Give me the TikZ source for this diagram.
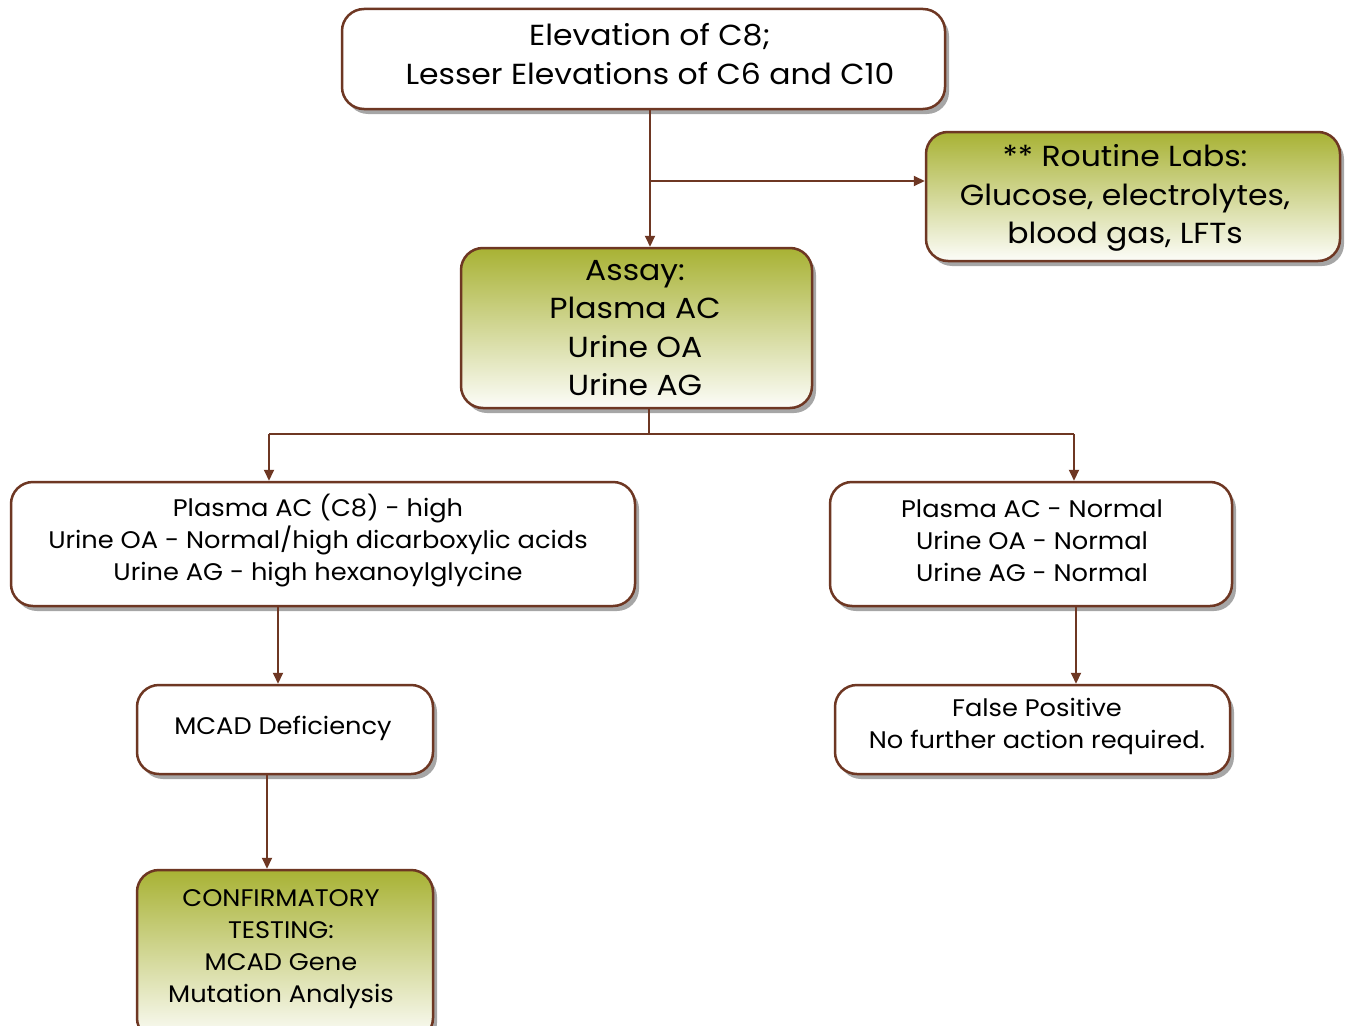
\documentclass[tikz,border=0pt]{standalone}
\usepackage{fontspec}
\setmainfont{Poppins}
\newfontfamily\bigf[FakeStretch=1.085]{Poppins}
\newfontfamily\smallf[FakeStretch=1.07]{Poppins}
\usetikzlibrary{shadows,arrows.meta}
\definecolor{brd}{RGB}{110,55,35}
\definecolor{olv}{RGB}{168,178,52}
\begin{document}
\begin{tikzpicture}[x=1pt,y=-1pt,
  box/.style={draw=brd, line width=2.5pt, rounded corners=22pt, fill=white, inner sep=0pt,
    drop shadow={shadow xshift=4pt, shadow yshift=-5pt, opacity=0.35, fill=black}},
  gbox/.style={box, top color=olv, bottom color=white!97!olv},
  big/.style={align=center, inner sep=0pt, font=\bigf\fontsize{29}{38.5}\selectfont},
  small/.style={align=center, inner sep=0pt, font=\smallf\fontsize{24}{32}\selectfont},
  arr/.style={draw=brd, line width=2pt, -{Triangle[length=11pt,width=10pt]}},
  ln/.style={draw=brd, line width=2pt}]
\useasboundingbox (0,0) rectangle (1346,1025);
\fill[white] (0,0) rectangle (1346,1025);
% boxes
\node[box,minimum width=603pt,minimum height=100pt] (top) at (643.5,59) {};
\node[gbox,minimum width=414pt,minimum height=129pt] (labs) at (1133,196.5) {};
\node[gbox,minimum width=351pt,minimum height=160pt] (assay) at (636.5,328) {};
\node[box,minimum width=624pt,minimum height=124pt] (left) at (323,544) {};
\node[box,minimum width=402pt,minimum height=124pt] (right) at (1031,544) {};
\node[box,minimum width=296pt,minimum height=89pt] (mcad) at (285,729.5) {};
\node[box,minimum width=395pt,minimum height=89pt] (fp) at (1032.5,729.5) {};
\node[gbox,minimum width=296pt,minimum height=170pt] (conf) at (285,955) {};
% texts
\node[big] (topt) at (650,54) {Elevation of C8;\\Lesser Elevations of C6 and C10};
\node[big] (labst) at (1125,198) {** Routine Labs:\\Glucose, electrolytes,\\blood gas, LFTs};
\node[big] (assayt) at (635,328) {Assay:\\Plasma AC\\Urine OA\\Urine AG};
\node[small] (leftt) at (318,541) {Plasma AC (C8) - high\\Urine OA - Normal/high dicarboxylic acids\\Urine AG - high hexanoylglycine};
\node[small] (rightt) at (1032,540.5) {Plasma AC - Normal\\Urine OA - Normal\\Urine AG - Normal};
\node[small] (mcadt) at (283,728) {MCAD Deficiency};
\node[small] (fpt) at (1037,726) {False Positive\\No further action required.};
\node[small] (conft) at (281,949) {CONFIRMATORY\\TESTING:\\MCAD Gene\\Mutation Analysis};
% connectors
\coordinate (c1) at (650,181);
\coordinate (c2) at (649,434);
\coordinate (cl) at (269,434);
\coordinate (cr) at (1074,434);
\coordinate (d1) at (278,0);
\coordinate (d2) at (1076,0);
\coordinate (d3) at (267,0);
\draw[arr] (top.south -| c1) -- (assay.north -| c1);
\draw[arr] (c1) -- (labs.west |- c1);
\draw[ln] (assay.south -| c2) -- (c2);
\draw[ln] (cl) -- (cr);
\draw[arr] (cl) -- (left.north -| cl);
\draw[arr] (cr) -- (right.north -| cr);
\draw[arr] (left.south -| d1) -- (mcad.north -| d1);
\draw[arr] (right.south -| d2) -- (fp.north -| d2);
\draw[arr] (mcad.south -| d3) -- (conf.north -| d3);
\end{tikzpicture}
\end{document}
